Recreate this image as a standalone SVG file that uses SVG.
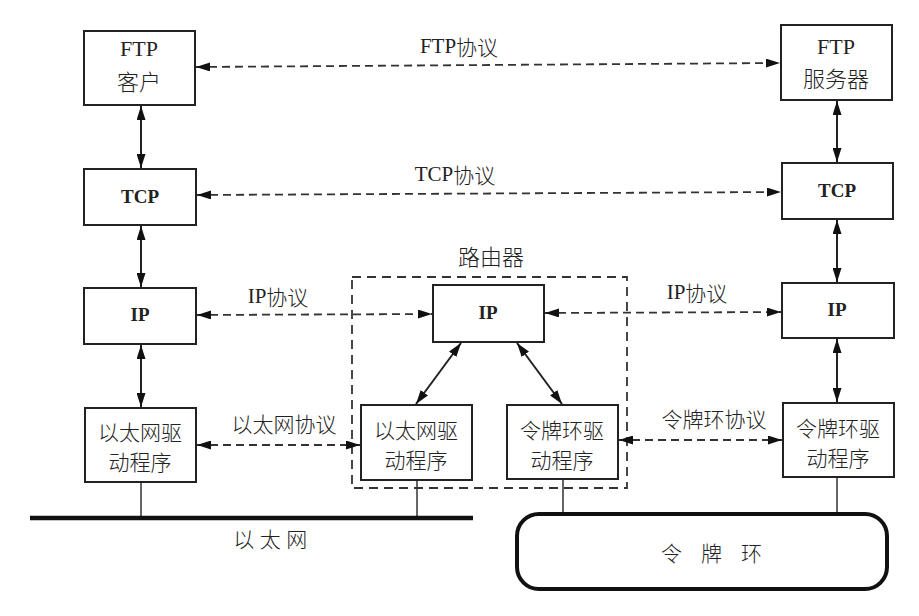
<svg xmlns="http://www.w3.org/2000/svg" width="919" height="616" viewBox="0 0 919 616">
<defs>
<marker id="ah" viewBox="0 0 14 9" refX="14" refY="4.5" markerWidth="14" markerHeight="9" markerUnits="userSpaceOnUse" orient="auto-start-reverse">
<path d="M0,0 L14,4.5 L0,9 z" fill="#111"/>
</marker>
<style>
.box{fill:#fff;stroke:#222;stroke-width:2}
.t{font-family:"Liberation Serif","Noto Sans CJK SC",serif;font-size:21px;fill:#222;text-anchor:middle;dominant-baseline:central}
.b{font-weight:bold;font-size:19px}
.cj{font-family:"Noto Sans CJK SC","Liberation Serif",sans-serif;font-weight:300;font-size:21px}
.bx{font-size:22px}
.dr{font-size:21px}
.solid{stroke:#222;stroke-width:2;fill:none}
.dash{stroke:#333;stroke-width:1.8;fill:none;stroke-dasharray:8 5}
.link{stroke:#333;stroke-width:1.5;fill:none}
</style>
</defs>
<rect width="919" height="616" fill="#fff"/>

<g id="router">
<rect x="352" y="277" width="275" height="211" fill="none" stroke="#333" stroke-width="1.8" stroke-dasharray="9 6"/>
<text class="t cj bx" x="491" y="255">路由器</text>
</g>

<g id="connectors">
<line class="solid" x1="141" y1="106" x2="141" y2="168" marker-start="url(#ah)" marker-end="url(#ah)"/>
<line class="solid" x1="141" y1="226" x2="141" y2="287" marker-start="url(#ah)" marker-end="url(#ah)"/>
<line class="solid" x1="141" y1="345" x2="141" y2="407" marker-start="url(#ah)" marker-end="url(#ah)"/>
<line class="solid" x1="837" y1="101" x2="837" y2="162" marker-start="url(#ah)" marker-end="url(#ah)"/>
<line class="solid" x1="837" y1="220" x2="837" y2="282" marker-start="url(#ah)" marker-end="url(#ah)"/>
<line class="solid" x1="837" y1="339" x2="837" y2="402" marker-start="url(#ah)" marker-end="url(#ah)"/>
<line class="solid" x1="461" y1="343" x2="416" y2="404" marker-start="url(#ah)" marker-end="url(#ah)"/>
<line class="solid" x1="517" y1="343" x2="562" y2="404" marker-start="url(#ah)" marker-end="url(#ah)"/>
<line class="dash" x1="196" y1="67" x2="780" y2="63" marker-start="url(#ah)" marker-end="url(#ah)"/>
<line class="dash" x1="197" y1="195" x2="781" y2="192" marker-start="url(#ah)" marker-end="url(#ah)"/>
<line class="dash" x1="197" y1="315" x2="432" y2="314" marker-start="url(#ah)" marker-end="url(#ah)"/>
<line class="dash" x1="545" y1="313" x2="781" y2="312" marker-start="url(#ah)" marker-end="url(#ah)"/>
<line class="dash" x1="197" y1="445" x2="360" y2="445" marker-start="url(#ah)" marker-end="url(#ah)"/>
<line class="dash" x1="619" y1="440" x2="782" y2="440" marker-start="url(#ah)" marker-end="url(#ah)"/>
<line class="link" x1="141" y1="482" x2="141" y2="518"/>
<line class="link" x1="417" y1="480" x2="417" y2="518"/>
<line class="link" x1="563" y1="480" x2="563" y2="514"/>
<line class="link" x1="837" y1="477" x2="837" y2="514"/>
<text class="t" x="459" y="46">FTP<tspan class="cj">协议</tspan></text>
<text class="t" x="455" y="174">TCP<tspan class="cj">协议</tspan></text>
<text class="t" x="278" y="296">IP<tspan class="cj">协议</tspan></text>
<text class="t" x="697" y="292">IP<tspan class="cj">协议</tspan></text>
<text class="t cj" x="284" y="423">以太网协议</text>
<text class="t cj" x="714" y="418">令牌环协议</text>
</g>

<g id="ftp-client">
<rect class="box" x="84" y="31" width="111" height="74"/>
<text class="t bx" x="139" y="48">FTP</text>
<text class="t cj bx" x="139" y="80">客户</text>
</g>
<g id="tcp-left">
<rect class="box" x="84" y="169" width="112" height="56"/>
<text class="t b" x="140" y="196">TCP</text>
</g>
<g id="ip-left">
<rect class="box" x="84" y="288" width="112" height="56"/>
<text class="t b" x="140" y="314">IP</text>
</g>
<g id="eth-driver-left">
<rect class="box" x="85" y="408" width="111" height="74"/>
<text class="t cj dr" x="140" y="431">以太网驱</text>
<text class="t cj dr" x="140" y="461">动程序</text>
</g>

<g id="ip-router">
<rect class="box" x="433" y="285" width="111" height="57"/>
<text class="t b" x="488" y="312">IP</text>
</g>
<g id="eth-driver-router">
<rect class="box" x="361" y="405" width="111" height="75"/>
<text class="t cj dr" x="416" y="429">以太网驱</text>
<text class="t cj dr" x="416" y="459">动程序</text>
</g>
<g id="ring-driver-router">
<rect class="box" x="507" y="405" width="111" height="74"/>
<text class="t cj dr" x="562" y="429">令牌环驱</text>
<text class="t cj dr" x="562" y="459">动程序</text>
</g>

<g id="ftp-server">
<rect class="box" x="781" y="25" width="111" height="75"/>
<text class="t bx" x="836" y="46">FTP</text>
<text class="t cj bx" x="836" y="77">服务器</text>
</g>
<g id="tcp-right">
<rect class="box" x="782" y="163" width="111" height="56"/>
<text class="t b" x="837" y="190">TCP</text>
</g>
<g id="ip-right">
<rect class="box" x="782" y="283" width="112" height="55"/>
<text class="t b" x="837" y="309">IP</text>
</g>
<g id="ring-driver-right">
<rect class="box" x="783" y="403" width="111" height="74"/>
<text class="t cj dr" x="838" y="427">令牌环驱</text>
<text class="t cj dr" x="838" y="457">动程序</text>
</g>

<g id="ethernet">
<line x1="30" y1="518" x2="473" y2="518" stroke="#111" stroke-width="4.5"/>
<text class="t cj" x="273" y="538" letter-spacing="5.5">以太网</text>
</g>
<g id="token-ring">
<rect x="517" y="514" width="370" height="75" rx="22" ry="22" fill="#fff" stroke="#111" stroke-width="4"/>
<text class="t cj" x="721" y="552" letter-spacing="19">令牌环</text>
</g>
</svg>
